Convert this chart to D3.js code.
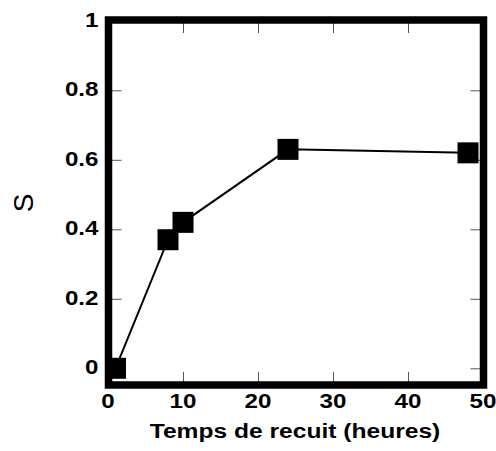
<!DOCTYPE html>
<html><head><meta charset="utf-8">
<script src="https://cdn.jsdelivr.net/npm/d3@7"></script>
<style>body{margin:0;background:#fff}svg{display:block}</style>
</head><body>
<script>
const hours = [1, 8, 10, 24, 48];
const sValues = [0, 0.37, 0.42, 0.63, 0.62];
const xTicks = [0, 10, 20, 30, 40, 50];
const yTicks = [0, 0.2, 0.4, 0.6, 0.8, 1];
const xTitle = "Temps de recuit (heures)";
const yTitle = "S";

(function () {
const W = 496, H = 451;
const svg = d3.select("body").append("svg").attr("width", W).attr("height", H);
const x = d3.scaleLinear().domain([0, 50]).range([108, 483]);
const y = d3.scaleLinear().domain([0, 1]).range([368.3, 20.8]);
const fl = 108.5, fr = 483.5, ft = 20, fb = 385;

const tickCol = "#555";
svg.append("g").attr("transform", `translate(0,${fb})`)
  .call(d3.axisBottom(x).tickValues(xTicks).tickSize(-13).tickFormat(""))
  .call(g => g.select(".domain").remove())
  .call(g => g.selectAll("line").attr("stroke", tickCol));
svg.append("g").attr("transform", `translate(0,${ft})`)
  .call(d3.axisTop(x).tickValues(xTicks).tickSize(-13).tickFormat(""))
  .call(g => g.select(".domain").remove())
  .call(g => g.selectAll("line").attr("stroke", tickCol));
svg.append("g").attr("transform", `translate(${fl},0)`)
  .call(d3.axisLeft(y).tickValues(yTicks).tickSize(-13).tickFormat(""))
  .call(g => g.select(".domain").remove())
  .call(g => g.selectAll("line").attr("stroke", tickCol));
svg.append("g").attr("transform", `translate(${fr},0)`)
  .call(d3.axisRight(y).tickValues(yTicks).tickSize(-13).tickFormat(""))
  .call(g => g.select(".domain").remove())
  .call(g => g.selectAll("line").attr("stroke", tickCol));

const pts = hours.map((h, i) => [h, sValues[i]]);
svg.append("path").datum(pts)
  .attr("d", d3.line().x(d => x(d[0])).y(d => y(d[1])))
  .attr("fill", "none").attr("stroke", "#000").attr("stroke-width", 2);

svg.append("rect").attr("x", fl).attr("y", ft)
  .attr("width", fr - fl).attr("height", fb - ft)
  .attr("fill", "none").attr("stroke", "#000").attr("stroke-width", 7.5);

const ms = 21;
svg.selectAll("rect.m").data(pts).enter().append("rect").attr("class", "m")
  .attr("x", d => x(d[0]) - ms / 2).attr("y", d => y(d[1]) - ms / 2)
  .attr("width", ms).attr("height", ms).attr("fill", "#000");

const font = "'Liberation Sans', Arial, sans-serif";
const sx = 1.15;
svg.selectAll("text.xl").data(xTicks).enter().append("text")
  .attr("transform", d => `translate(${x(d)},407.5) scale(${sx},1)`)
  .attr("text-anchor", "middle").attr("font-family", font)
  .attr("font-weight", "bold").attr("font-size", 21).text(d => d);
svg.selectAll("text.yl").data(yTicks).enter().append("text")
  .attr("transform", d => `translate(98.5,${y(d) + 6}) scale(${sx},1)`)
  .attr("text-anchor", "end").attr("font-family", font)
  .attr("font-weight", "bold").attr("font-size", 21).text(d => d);

svg.append("text").attr("transform", `translate(295,437.5) scale(1.2,1)`)
  .attr("text-anchor", "middle").attr("font-family", font)
  .attr("font-weight", "bold").attr("font-size", 20.5).text(xTitle);
svg.append("text").attr("transform", "translate(33,203) rotate(-90)")
  .attr("text-anchor", "middle").attr("font-family", font)
  .attr("font-size", 28).text(yTitle);
})();
</script>
</body></html>
